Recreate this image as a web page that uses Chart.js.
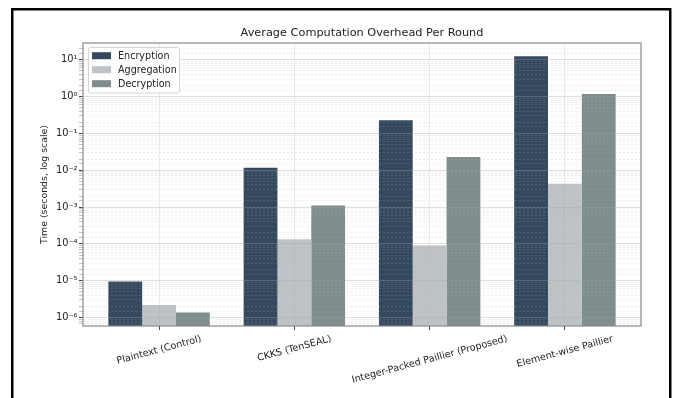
<!DOCTYPE html>
<html>
<head>
<meta charset="utf-8">
<script src="https://cdn.jsdelivr.net/npm/chart.js@4.4.1/dist/chart.umd.min.js"></script>
<style>
  html, body { margin: 0; padding: 0; background: #ffffff; }
  #wrap { width: 682px; height: 398px; position: relative; }
</style>
</head>
<body>
<div id="wrap"><canvas id="chart" width="682" height="398"></canvas></div>
<script>
// Categories and per-phase timings (seconds)
const categories = ['Plaintext (Control)', 'CKKS (TenSEAL)', 'Integer-Packed Paillier (Proposed)', 'Element-wise Paillier'];
const encryption  = [9.5e-6, 0.0117, 0.23, 12.5];
const aggregation = [2.2e-6, 1.34e-4, 9.0e-5, 4.3e-3];
const decryption  = [1.37e-6, 1.11e-3, 0.0229, 1.18];
const seriesNames = ['Encryption', 'Aggregation', 'Decryption'];
const seriesColors = ['#34495e', '#bdc3c7', '#7f8c8d'];
const yMin = 5.9e-7;
const yMax = 28.6;
const titleText = 'Average Computation Overhead Per Round';
const yTitleText = 'Time (seconds, log scale)';

const FONT = '"DejaVu Sans", "Liberation Sans", sans-serif';
const TEXT = '#222222';
const LABEL_SIZE = 9.6;
Chart.defaults.font.family = FONT;
Chart.defaults.color = TEXT;

const SUP = { '-': '\u207B', '0': '\u2070', '1': '\u00B9', '2': '\u00B2', '3': '\u00B3',
              '4': '\u2074', '5': '\u2075', '6': '\u2076', '7': '\u2077', '8': '\u2078', '9': '\u2079' };
function isDecade(v) {
  const l = Math.log10(v);
  return Math.abs(l - Math.round(l)) < 1e-6;
}
function isEdge(v) {
  return Math.abs(v - yMin) / yMin < 1e-6 || Math.abs(v - yMax) / yMax < 1e-6;
}
function decadeLabel(v) {
  const e = String(Math.round(Math.log10(v)));
  return '10' + e.split('').map(c => SUP[c]).join('');
}

function toPoints(arr) { return arr.map((y, i) => ({ x: i, y })); }
const seriesData = [encryption, aggregation, decryption];

// Title, rotated category labels, legend, axes box and outer frame
const decor = {
  id: 'decor',
  afterDraw(chart) {
    const { ctx, chartArea: a, scales } = chart;
    ctx.save();

    // axes box
    ctx.strokeStyle = '#8a8a8a';
    ctx.lineWidth = 1.2;
    ctx.strokeRect(a.left, a.top, a.right - a.left, a.bottom - a.top);

    // title
    ctx.fillStyle = TEXT;
    ctx.textAlign = 'center';
    ctx.textBaseline = 'middle';
    ctx.font = '11.3px ' + FONT;
    ctx.fillText(titleText, (a.left + a.right) / 2, 33);

    // category labels, rotated 15 degrees and centred under each tick
    ctx.font = LABEL_SIZE + 'px ' + FONT;
    const rad = 15 * Math.PI / 180;
    categories.forEach((lab, i) => {
      const x = scales.x.getPixelForValue(i);
      const w = ctx.measureText(lab).width;
      const h = 10;
      const bh = w * Math.sin(rad) + h * Math.cos(rad);
      const cy = a.bottom + 8 + bh / 2;
      ctx.save();
      ctx.translate(x, cy);
      ctx.rotate(-rad);
      ctx.fillText(lab, 0, 0);
      ctx.restore();
    });

    // legend
    const lx = 88, ly = 47, lw = 91, lh = 45.5;
    ctx.beginPath();
    ctx.roundRect(lx + 0.5, ly + 0.5, lw, lh, 2.5);
    ctx.fillStyle = 'rgba(255,255,255,0.85)';
    ctx.fill();
    ctx.strokeStyle = '#d4d4d4';
    ctx.lineWidth = 1;
    ctx.stroke();
    ctx.textAlign = 'left';
    ctx.textBaseline = 'middle';
    chart.data.datasets.forEach((ds, i) => {
      const ry = 55.7 + i * 14;
      ctx.fillStyle = ds.backgroundColor;
      ctx.fillRect(92, ry - 3.5, 19, 7);
      ctx.fillStyle = TEXT;
      ctx.fillText(ds.label, 118, ry + 0.5);
    });

    // outer frame
    ctx.strokeStyle = '#000000';
    ctx.lineWidth = 2.5;
    ctx.strokeRect(12.25, 9.25, 658, 460);
    ctx.restore();
  }
};

new Chart(document.getElementById('chart'), {
  type: 'bar',
  data: {
    datasets: seriesNames.map((name, i) => ({
      label: name,
      data: toPoints(seriesData[i]),
      backgroundColor: seriesColors[i],
      borderWidth: 0,
      categoryPercentage: 0.75,
      barPercentage: 1.0
    }))
  },
  options: {
    responsive: false,
    devicePixelRatio: 1,
    animation: false,
    layout: { padding: { left: 33, top: 43, right: 41, bottom: 0 } },
    plugins: {
      legend: { display: false },
      title: { display: false },
      tooltip: { enabled: false }
    },
    scales: {
      x: {
        type: 'linear',
        offset: false,
        min: -0.5625,
        max: 3.5625,
        afterBuildTicks: s => { s.ticks = categories.map((_, i) => ({ value: i })); },
        afterFit: s => { s.height = 72; },
        ticks: { display: false },
        grid: {
          offset: false,
          z: 1,
          color: 'rgba(175,175,175,0.35)',
          lineWidth: 0.8,
          drawTicks: true,
          tickLength: 4,
          tickColor: '#444444',
          tickWidth: 1
        },
        border: { display: false }
      },
      y: {
        type: 'logarithmic',
        min: yMin,
        max: yMax,
        afterFit: s => { s.width = 50; },
        ticks: {
          autoSkip: false,
          padding: 1.5,
          color: TEXT,
          font: { size: 9.8 },
          callback: v => isDecade(v) ? decadeLabel(v) : ''
        },
        grid: {
          z: 1,
          color: c => {
            if (!c.tick || isEdge(c.tick.value)) return 'rgba(0,0,0,0)';
            return isDecade(c.tick.value) ? 'rgba(165,165,165,0.45)' : 'rgba(175,175,175,0.38)';
          },
          lineWidth: c => (c.tick && isDecade(c.tick.value)) ? 0.8 : 0.6,
          drawTicks: true,
          tickLength: 4,
          tickColor: c => {
            if (!c.tick || isEdge(c.tick.value)) return 'rgba(0,0,0,0)';
            return isDecade(c.tick.value) ? '#444444' : '#999999';
          },
          tickWidth: c => (c.tick && isDecade(c.tick.value)) ? 1 : 0.6
        },
        border: {
          display: false,
          dash: c => (c.tick && !isDecade(c.tick.value)) ? [2, 2] : []
        },
        title: {
          display: true,
          text: yTitleText,
          color: TEXT,
          font: { size: 9.4 },
          padding: { top: 6.4, bottom: 0 }
        }
      }
    }
  },
  plugins: [decor]
});
</script>
</body>
</html>
